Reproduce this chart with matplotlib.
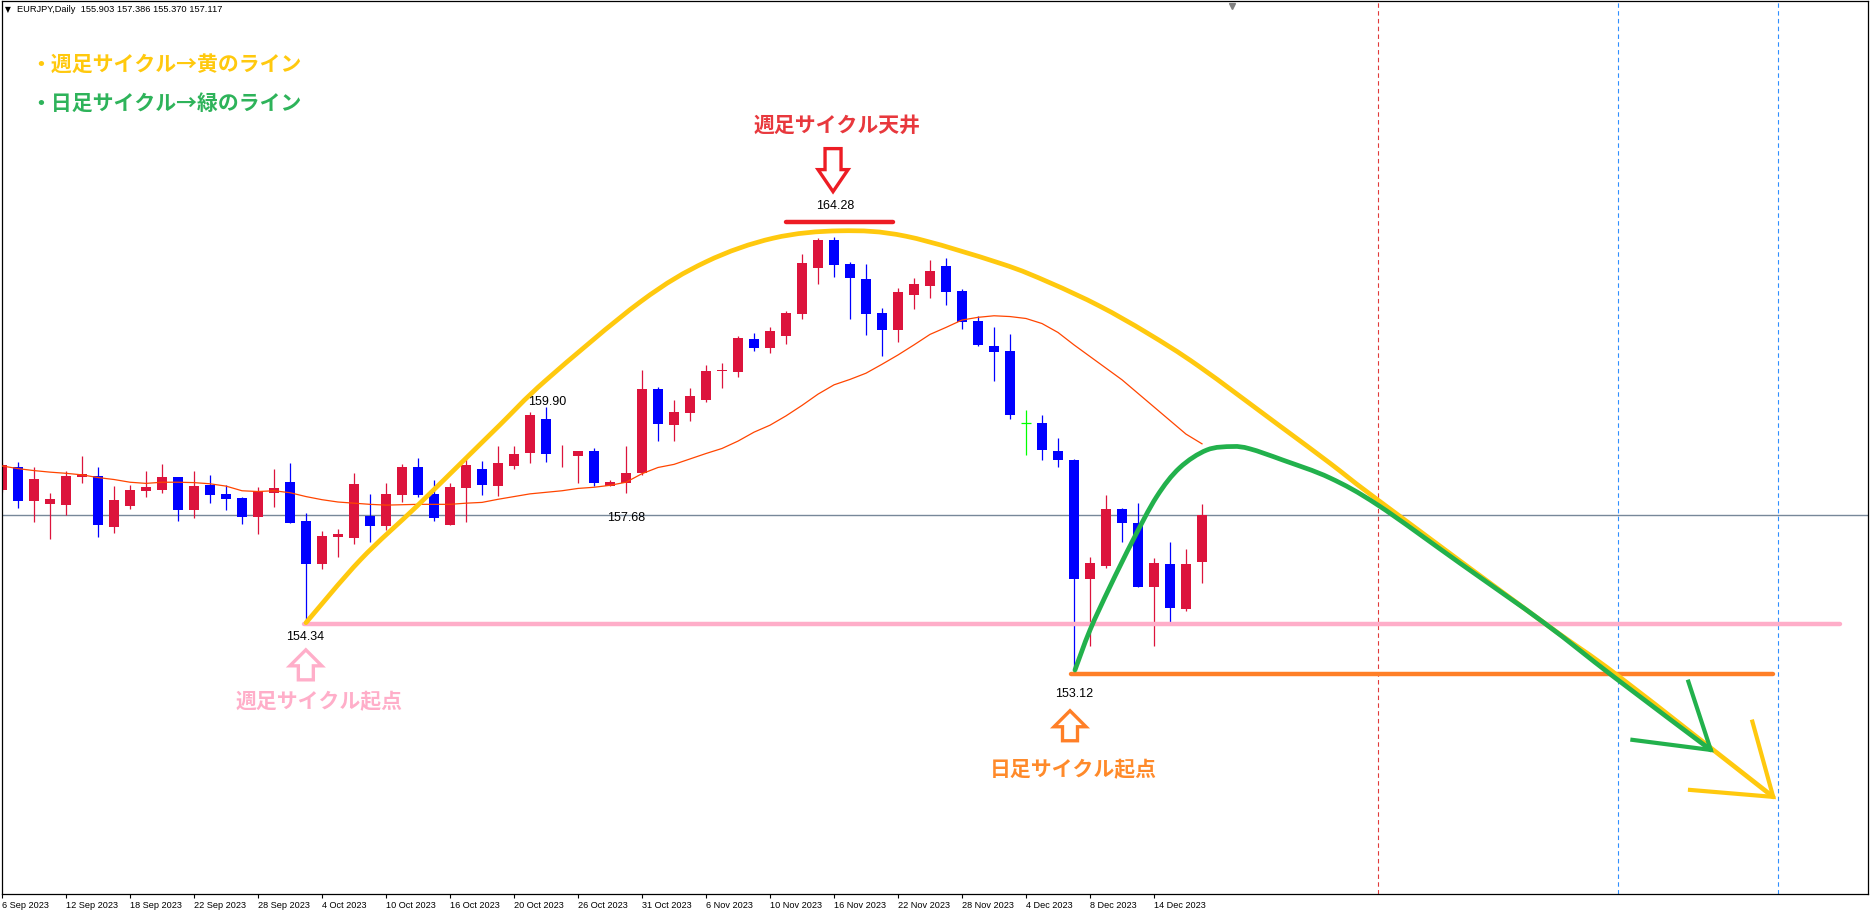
import matplotlib
matplotlib.use("Agg")
import matplotlib.pyplot as plt
from matplotlib.patches import Polygon, PathPatch
from matplotlib.path import Path
from matplotlib.transforms import IdentityTransform

plt.rcParams['font.family'] = ['Noto Sans CJK JP', 'DejaVu Sans']

# EURJPY daily bars, left to right
opens = [157.75, 158.35, 157.48, 157.41, 157.37, 158.10, 158.12, 156.81, 157.36, 157.74,
         157.77, 158.09, 157.25, 157.89, 157.66, 157.55, 157.07, 157.69, 157.97, 156.96,
         155.85, 156.56, 156.53, 157.09, 156.84, 157.64, 158.34, 157.65, 156.86, 157.82,
         158.29, 157.86, 158.39, 158.72, 159.59, 158.68, 158.64, 158.76, 157.87, 157.95,
         158.19, 160.36, 159.44, 159.75, 160.08, 160.83, 160.81, 161.65, 161.43, 161.74,
         162.30, 163.49, 164.20, 163.58, 163.20, 162.32, 161.89, 162.79, 163.03, 163.53,
         162.89, 162.12, 161.47, 161.34, 159.48, 159.49, 158.76, 158.53, 155.47, 155.80,
         157.27, 156.91, 155.27, 155.85, 154.69, 155.903]
highs = [158.45, 158.48, 158.35, 157.68, 158.24, 158.64, 158.35, 157.86, 157.89, 158.25,
         158.43, 158.10, 158.25, 158.15, 157.89, 157.58, 157.84, 158.30, 158.46, 157.17,
         156.70, 156.75, 158.21, 157.66, 157.93, 158.43, 158.58, 158.02, 157.93, 158.58,
         158.51, 158.89, 158.89, 159.78, 159.90, 158.92, 158.76, 158.83, 158.03, 158.89,
         160.85, 160.42, 160.08, 160.39, 160.98, 161.02, 161.73, 161.80, 161.95, 162.38,
         163.85, 164.25, 164.28, 163.64, 163.58, 162.45, 162.97, 163.22, 163.69, 163.73,
         162.93, 162.25, 161.96, 161.77, 159.82, 159.69, 159.10, 158.55, 156.04, 157.63,
         157.30, 157.42, 156.01, 156.42, 156.24, 157.386]
lows = [157.70, 157.30, 156.94, 156.50, 157.12, 157.95, 156.56, 156.66, 157.28, 157.59,
        157.69, 156.97, 157.05, 157.43, 157.25, 156.89, 156.63, 157.33, 156.90, 154.34,
        155.72, 156.03, 156.36, 156.43, 156.73, 157.46, 157.59, 156.97, 156.86, 156.94,
        157.63, 157.60, 158.29, 158.46, 158.49, 158.36, 157.95, 157.85, 157.87, 157.68,
        158.15, 159.03, 159.03, 159.55, 160.04, 160.40, 160.68, 161.35, 161.30, 161.53,
        162.16, 163.08, 163.26, 162.16, 161.75, 161.21, 161.58, 162.43, 162.72, 162.53,
        161.91, 161.47, 160.57, 159.59, 158.66, 158.52, 158.34, 153.12, 153.75, 155.76,
        156.43, 155.27, 153.75, 154.37, 154.65, 155.370]
closes = [158.40, 157.48, 158.04, 157.53, 158.12, 158.17, 156.86, 157.50, 157.76, 157.84,
          158.09, 157.25, 157.86, 157.64, 157.54, 157.07, 157.73, 157.81, 156.92, 155.85,
          156.57, 156.63, 157.91, 156.84, 157.66, 158.34, 157.63, 157.05, 157.83, 158.40,
          157.90, 158.45, 158.69, 159.69, 158.70, 158.70, 158.76, 157.95, 157.97, 158.19,
          160.36, 159.47, 159.77, 160.18, 160.83, 160.85, 161.68, 161.43, 161.86, 162.32,
          163.61, 164.20, 163.57, 163.23, 162.30, 161.89, 162.86, 163.07, 163.40, 162.87,
          162.10, 161.50, 161.32, 159.69, 159.48, 158.79, 158.52, 155.47, 155.88, 157.27,
          156.92, 155.27, 155.88, 154.73, 155.85, 157.117]
ma = [158.38, 158.31, 158.26, 158.22, 158.19, 158.15, 158.08, 158.03, 157.96, 157.93,
      157.96, 157.96, 157.95, 157.92, 157.86, 157.74, 157.72, 157.74, 157.69, 157.59,
      157.51, 157.45, 157.42, 157.39, 157.37, 157.38, 157.39, 157.39, 157.39, 157.42,
      157.44, 157.52, 157.59, 157.66, 157.70, 157.74, 157.80, 157.83, 157.88, 157.96,
      158.18, 158.34, 158.42, 158.56, 158.70, 158.83, 159.02, 159.25, 159.43, 159.67,
      159.94, 160.23, 160.47, 160.61, 160.77, 161.00, 161.24, 161.50, 161.77, 161.95,
      162.14, 162.21, 162.25, 162.23, 162.18, 162.05, 161.82, 161.50, 161.20, 160.90,
      160.60, 160.25, 159.90, 159.55, 159.20, 158.95]
bid = 157.117

date_labels = ['6 Sep 2023', '12 Sep 2023', '18 Sep 2023', '22 Sep 2023', '28 Sep 2023',
               '4 Oct 2023', '10 Oct 2023', '16 Oct 2023', '20 Oct 2023', '26 Oct 2023',
               '31 Oct 2023', '6 Nov 2023', '10 Nov 2023', '16 Nov 2023', '22 Nov 2023',
               '28 Nov 2023', '4 Dec 2023', '8 Dec 2023', '14 Dec 2023']

# hand drawn cycle lines (bar index, price)
yellow_bars = [19.0, 22.4, 25.9, 29.0, 31.1, 34.0, 39.9, 44.0, 48.2, 52.4, 56.5,
               62.4, 65.5, 68.6, 71.6, 74.8, 79.9, 83.0, 86.0, 96.4, 101.1, 110.7]
yellow_prices = [154.34, 155.96, 157.33, 158.58, 159.43, 160.59, 162.61, 163.64, 164.25,
                 164.44, 164.30, 163.60, 163.10, 162.50, 161.80, 160.95, 159.40, 158.45,
                 157.50, 154.33, 152.94, 149.85]
green_bars = [67.06, 68.0, 69.25, 70.69, 72.17, 73.6, 75.3, 76.9, 78.0, 80.06, 83.0,
              86.0, 91.1, 96.4, 100.75, 106.8]
green_prices = [153.12, 154.15, 155.27, 156.47, 157.59, 158.33, 158.79, 158.88, 158.82,
                158.53, 158.07, 157.37, 155.88, 154.33, 152.94, 151.06]
yellow_head = [(105.5, 150.03), (110.7, 149.85), (109.4, 151.79)]
green_head = [(101.9, 151.32), (106.8, 151.06), (105.4, 152.82)]

top_line = 164.67
pink_line = 154.31
orange_line = 153.02
red_vline = 86
blue_vlines = [101, 111]

YELLOW = '#FFC90E'
GREEN = '#22B14C'
RED = '#ED1C24'
PINK = '#FFAEC9'
ORANGE = '#FF7F27'
UP = '#DC143C'
DOWN = '#0000FF'

fig = plt.figure(figsize=(18.71, 9.10), dpi=100)
ax = fig.add_axes([2 / 1871, 16 / 910, 1866 / 1871, 893 / 910])
ax.set_xlim(0, 116.625)
ax.set_ylim(147.347, 170.363)

# bid line
ax.axhline(bid, color='#778899', lw=1, zorder=1)

# candles
n = len(opens)
for i in range(n):
    o, h, l, c = opens[i], highs[i], lows[i], closes[i]
    if c > o:
        col = UP
    elif c < o:
        col = DOWN
    else:
        col = '#00FF00'
    ax.vlines(i, l, h, color=col, lw=0.9, zorder=2)
    if c == o:
        ax.hlines(o, i - 0.33, i + 0.33, color=col, lw=0.9, zorder=2)
    else:
        ax.bar(i, abs(c - o), bottom=min(o, c), width=0.66, color=col, lw=0, zorder=2)

ax.plot(range(n), ma, color='#FF4500', lw=0.9, zorder=3)

# dashed verticals
ax.axvline(red_vline, color='#E03A3A', lw=0.8, ls=(0, (4, 3)), zorder=1)
for b in blue_vlines:
    ax.axvline(b, color='#2F8FFF', lw=0.8, ls=(0, (4, 3)), zorder=1)

# horizontal marker lines
ax.plot([49, 55.7], [top_line, top_line], color=RED, lw=3.2, solid_capstyle='round', zorder=5)
ax.plot([18.9, 114.9], [pink_line, pink_line], color=PINK, lw=3.2, solid_capstyle='round', zorder=4)
ax.plot([66.8, 110.7], [orange_line, orange_line], color=ORANGE, lw=3.2, solid_capstyle='round', zorder=4)


def smooth_path(xs, ys):
    # bezier path through the read points (catmull-rom control points)
    pts = list(zip(xs, ys))
    ext = [pts[0]] + pts + [pts[-1]]
    verts = [pts[0]]
    codes = [Path.MOVETO]
    for k in range(1, len(ext) - 2):
        p0, p1, p2, p3 = ext[k - 1], ext[k], ext[k + 1], ext[k + 2]
        c1 = (p1[0] + (p2[0] - p0[0]) / 6, p1[1] + (p2[1] - p0[1]) / 6)
        c2 = (p2[0] - (p3[0] - p1[0]) / 6, p2[1] - (p3[1] - p1[1]) / 6)
        verts += [c1, c2, p2]
        codes += [Path.CURVE4] * 3
    return Path(verts, codes)


ax.add_patch(PathPatch(smooth_path(yellow_bars, yellow_prices), fill=False, edgecolor=YELLOW,
                       lw=3.4, capstyle='round', zorder=6))
ax.plot(*zip(*yellow_head), color=YELLOW, lw=3.0, solid_joinstyle='miter', zorder=6)
ax.add_patch(PathPatch(smooth_path(green_bars, green_prices), fill=False, edgecolor=GREEN,
                       lw=3.4, capstyle='round', zorder=7))
ax.plot(*zip(*green_head), color=GREEN, lw=3.0, solid_joinstyle='miter', zorder=7)


def hollow_arrow(bar, price, color, up=True, length=30, head_len=16, head_w=16, shaft_w=7.5):
    tx, ty = ax.transData.transform((bar, price))
    s = -1 if up else 1
    pts = [(0, 0), (head_w, s * head_len), (shaft_w, s * head_len), (shaft_w, s * length),
           (-shaft_w, s * length), (-shaft_w, s * head_len), (-head_w, s * head_len)]
    verts = [(tx + dx, ty + dy) for dx, dy in pts]
    ax.add_patch(Polygon(verts, closed=True, facecolor='white', edgecolor=color, lw=2.4,
                         joinstyle='miter', transform=IdentityTransform(), zorder=8))


hollow_arrow(51.94, 165.45, RED, up=False, length=43, head_len=22, head_w=15, shaft_w=8)
hollow_arrow(18.99, 153.64, PINK, up=True)
hollow_arrow(66.75, 152.07, ORANGE, up=True)

# annotation texts
ax.text(52.22, 167.17, '週足サイクル天井', color='#E8383D', fontsize=15, fontweight='bold',
        ha='center', va='center', zorder=9)
ax.text(19.81, 152.30, '週足サイクル起点', color='#FFAEC9', fontsize=15, fontweight='bold',
        ha='center', va='center', zorder=9)
ax.text(66.98, 150.56, '日足サイクル起点', color='#FF8A2A', fontsize=15, fontweight='bold',
        ha='center', va='center', zorder=9)
fig.text(30 / 1871, 1 - 64 / 910, '・週足サイクル→黄のライン', color=YELLOW, fontsize=15,
         fontweight='bold', ha='left', va='center')
fig.text(30 / 1871, 1 - 103 / 910, '・日足サイクル→緑のライン', color='#2EB35A', fontsize=15,
         fontweight='bold', ha='left', va='center')

# price labels on the swing points
label_values = [164.28, 159.90, 157.68, 154.34, 153.12]
label_pos = [(52.06, 165.08), (34.1, 160.03), (39.0, 157.04), (18.96, 153.98), (66.98, 152.50)]
for v, (bx, py) in zip(label_values, label_pos):
    ax.text(bx, py, f'{v:.2f}', fontsize=9, family='Liberation Sans', color='black',
            ha='center', va='center', zorder=9)

# header
fig.text(5 / 1871, 1 - 10 / 910, '▼', fontsize=5.5, family='DejaVu Sans', ha='left', va='center')
fig.text(17 / 1871, 1 - 9 / 910, 'EURJPY,Daily  155.903 157.386 155.370 157.117',
         fontsize=6.7, family='Liberation Sans', ha='left', va='center')

# chart shift marker
ax.plot([76.875], [0.994], marker='v', ms=5, color='#808080', transform=ax.get_xaxis_transform(),
        clip_on=False, zorder=10)

ax.set_xticks(range(0, 4 * len(date_labels), 4))
ax.set_xticklabels(date_labels, ha='left', fontsize=6.6, family='Liberation Sans')
ax.tick_params(axis='x', length=3, pad=2, width=0.8)
ax.set_yticks([])
for sp in ax.spines.values():
    sp.set_linewidth(0.9)

fig.savefig('out.png', dpi=100)
